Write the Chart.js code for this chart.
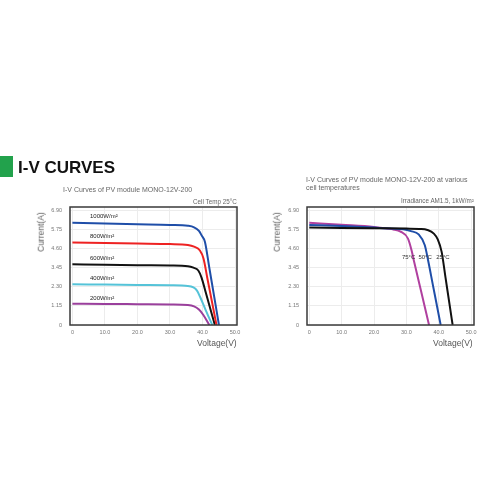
<!DOCTYPE html>
<html><head><meta charset="utf-8">
<script src="https://cdn.jsdelivr.net/npm/chart.js@4.4.0/dist/chart.umd.min.js"></script>
<style>
html,body{margin:0;padding:0;background:#fff;width:500px;height:500px;overflow:hidden;font-family:"Liberation Sans",Arial,sans-serif;}
.t{position:absolute;white-space:nowrap;color:#666;font-size:7px;line-height:1;will-change:transform;}
.s{position:absolute;white-space:nowrap;color:#666;font-size:6.3px;line-height:1;will-change:transform;}
.ax{position:absolute;white-space:nowrap;color:#555;font-size:8.5px;line-height:1;will-change:transform;}
#bar{position:absolute;left:0;top:156px;width:13px;height:21px;background:#22a24c;}
#head{position:absolute;left:18px;top:159px;font-size:17px;font-weight:bold;line-height:1;color:#111;white-space:nowrap;will-change:transform;}
canvas{position:absolute;}
</style></head>
<body>
<div id="bar"></div>
<div id="head">I-V CURVES</div>
<div class="t" style="left:63px;top:185.5px;">I-V Curves of PV module MONO-12V-200</div>
<div class="s" style="right:263px;top:198.5px;">Cell Temp 25°C</div>
<div class="t" style="left:306px;top:175.5px;">I-V Curves of PV module MONO-12V-200 at various</div>
<div class="t" style="left:306px;top:184px;">cell temperatures</div>
<div class="s" style="right:26px;top:197.5px;">Irradiance AM1.5, 1kW/m²</div>
<div class="ax" style="left:41.3px;top:232px;transform:translate(-50%,-50%) rotate(-90deg);">Current(A)</div>
<div class="ax" style="left:276.5px;top:232px;transform:translate(-50%,-50%) rotate(-90deg);">Current(A)</div>
<div class="ax" style="right:263px;top:338.5px;">Voltage(V)</div>
<div class="ax" style="right:27px;top:338.5px;">Voltage(V)</div>
<div style="position:absolute;left:0;top:200px;width:250px;height:150px;"><canvas id="c1" width="250" height="150"></canvas></div>
<div style="position:absolute;left:250px;top:200px;width:250px;height:150px;"><canvas id="c2" width="250" height="150"></canvas></div>
<script>
// ---- tick labels ----
const currentTicks = [0, 1.15, 2.30, 3.45, 4.60, 5.75, 6.90];
const voltageTicks = [0, 10, 20, 30, 40, 50];

// ---- Chart 1: irradiance series (voltage V, current A) ----
const irradianceLabels = ['1000W/m²', '800W/m²', '600W/m²', '400W/m²', '200W/m²'];
const v1000 = [0, 10, 20, 30, 35.5, 37.4, 38.9, 39.7, 40.75, 42.1, 43.6, 45.05];
const i1000 = [6.15, 6.1, 6.06, 6.02, 5.97, 5.88, 5.66, 5.4, 5.0, 3.43, 1.69, 0];
const v800 = [0, 10, 20, 30, 35.5, 37.4, 39.2, 40.3, 41.5, 43, 44.3];
const i800 = [4.96, 4.93, 4.9, 4.87, 4.82, 4.72, 4.48, 4.0, 2.8, 1.3, 0];
const v600 = [0, 10, 20, 30, 35.5, 37.2, 38.7, 39.7, 41, 42.5, 43.8];
const i600 = [3.65, 3.63, 3.6, 3.58, 3.54, 3.45, 3.28, 2.85, 1.95, 0.9, 0];
const v400 = [0, 10, 20, 30, 35.5, 37.2, 38.3, 39.3, 41, 43.0];
const i400 = [2.45, 2.43, 2.41, 2.39, 2.35, 2.26, 2.07, 1.67, 0.88, 0];
const v200 = [0, 10, 20, 30, 35.5, 37.4, 38.9, 40.2, 42.1];
const i200 = [1.28, 1.27, 1.25, 1.23, 1.2, 1.12, 0.93, 0.62, 0];

// ---- Chart 2: temperature series ----
const temperatureLabels = ['25°C', '50°C', '75°C'];
const v25 = [0, 10, 20, 30, 34, 36.5, 38.5, 39.7, 40.9, 42.1, 43.4, 44.3];
const i25 = [5.86, 5.84, 5.82, 5.8, 5.78, 5.72, 5.5, 5.15, 4.4, 2.85, 1.16, 0];
const v50 = [0, 10, 20, 25, 29, 31.4, 33.8, 35.7, 36.6, 38.2, 39.7, 40.6];
const i50 = [6.02, 5.95, 5.86, 5.8, 5.76, 5.65, 5.45, 4.8, 4.0, 2.4, 0.9, 0];
const v75 = [0, 10, 20, 24, 26, 28.2, 30.5, 31.6, 32.4, 34.5, 37.0];
const i75 = [6.15, 6.03, 5.9, 5.8, 5.75, 5.62, 5.2, 4.5, 3.8, 2.07, 0];

const zip = (vs, is) => vs.map((v, k) => ({x: v, y: is[k]}));

const boxAndLabels = {
  id: 'boxAndLabels',
  afterDatasetsDraw(chart, args, opts) {
    const {ctx, chartArea: a, scales: {x, y}} = chart;
    ctx.save();
    ctx.strokeStyle = '#3a3a3a';
    ctx.lineWidth = 1.5;
    ctx.strokeRect(a.left, a.top, a.right - a.left, a.bottom - a.top);
    ctx.font = '6px "Liberation Sans", Arial, sans-serif';
    ctx.fillStyle = opts.color;
    ctx.textAlign = opts.align;
    ctx.textBaseline = 'middle';
    (opts.items || []).forEach(it => ctx.fillText(it.text, x.getPixelForValue(it.x), y.getPixelForValue(it.y)));
    ctx.restore();
  }
};

function makeOptions(xMin, xMax, yWidth, padRight, items, align, color) {
  const tickFont = {family: '"Liberation Sans", Arial, sans-serif', size: 5.5};
  return {
    responsive: false,
    animation: false,
    layout: {padding: {left: 0, right: padRight, top: 7, bottom: 5}},
    plugins: {legend: {display: false}, tooltip: {enabled: false}, boxAndLabels: {items, align, color}},
    elements: {point: {radius: 0}},
    scales: {
      x: {
        type: 'linear', min: xMin, max: xMax,
        afterBuildTicks: s => { s.ticks = voltageTicks.map(v => ({value: v})); },
        afterFit: s => { s.height = 20; s.paddingLeft = 0; s.paddingRight = 0; },
        ticks: {font: tickFont, color: '#777', padding: 4, maxRotation: 0, autoSkip: false,
          callback: v => v === 0 ? '0' : Number(v).toFixed(1)},
        grid: {color: '#ececec', lineWidth: 1, drawTicks: false},
        border: {display: false}
      },
      y: {
        type: 'linear', min: 0, max: 7.1,
        afterBuildTicks: s => { s.ticks = currentTicks.map(v => ({value: v})); },
        afterFit: s => { s.width = yWidth; s.paddingTop = 0; s.paddingBottom = 0; },
        ticks: {font: tickFont, color: '#777', padding: 8, autoSkip: false,
          callback: v => v === 0 ? '0' : Number(v).toFixed(2)},
        grid: {color: '#ececec', lineWidth: 1, drawTicks: false},
        border: {display: false}
      }
    }
  };
}

function ds(label, vs, is, color) {
  return {label, data: zip(vs, is), borderColor: color, backgroundColor: color,
    borderWidth: 2, showLine: true, fill: false, cubicInterpolationMode: 'monotone', pointRadius: 0};
}

new Chart(document.getElementById('c1'), {
  type: 'scatter',
  data: {datasets: [
    ds(irradianceLabels[0], v1000, i1000, '#1f4ea8'),
    ds(irradianceLabels[1], v800, i800, '#ee2222'),
    ds(irradianceLabels[2], v600, i600, '#111111'),
    ds(irradianceLabels[3], v400, i400, '#55c3d8'),
    ds(irradianceLabels[4], v200, i200, '#9a3f9c')
  ]},
  options: makeOptions(-0.74, 50.6, 70, 13, [
    {text: irradianceLabels[0], x: 5.4, y: 6.55},
    {text: irradianceLabels[1], x: 5.4, y: 5.33},
    {text: irradianceLabels[2], x: 5.4, y: 4.0},
    {text: irradianceLabels[3], x: 5.4, y: 2.80},
    {text: irradianceLabels[4], x: 5.4, y: 1.63}
  ], 'left', '#222'),
  plugins: [boxAndLabels]
});

new Chart(document.getElementById('c2'), {
  type: 'scatter',
  data: {datasets: [
    ds(temperatureLabels[0], v25, i25, '#111111'),
    ds(temperatureLabels[1], v50, i50, '#1f4ea8'),
    ds(temperatureLabels[2], v75, i75, '#b0409f')
  ]},
  options: makeOptions(-0.71, 50.9, 57, 26, [
    {text: temperatureLabels[2], x: 30.7, y: 4.05},
    {text: temperatureLabels[1], x: 35.8, y: 4.05},
    {text: temperatureLabels[0], x: 41.3, y: 4.05}
  ], 'center', '#333'),
  plugins: [boxAndLabels]
});
</script>
</body></html>
